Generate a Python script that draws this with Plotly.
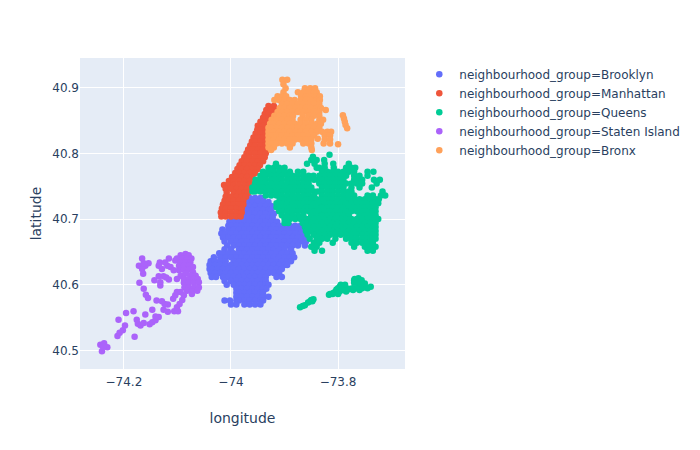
import plotly.graph_objects as go

group_names = ["Brooklyn", "Manhattan", "Queens", "Staten Island", "Bronx"]
group_colors = ["#636efa", "#EF553B", "#00cc96", "#ab63fa", "#FFA15A"]

brooklyn_lat = [40.732,40.726,40.720,40.714,40.708,40.702,40.696,40.690,40.684,40.678,40.672,40.666,40.660,40.654,40.648,40.642,40.636,40.630,40.624,40.618,40.612,40.606,40.600,40.594,40.588,40.582,40.576,40.570]
brooklyn_lon = [
[-73.965,-73.955,-73.945,-73.94],
[-73.97,-73.96,-73.95,-73.94,-73.93],
[-73.975,-73.965,-73.955,-73.945,-73.935,-73.925],
[-73.98,-73.97,-73.96,-73.95,-73.94,-73.93,-73.925],
[-73.99,-73.985,-73.975,-73.965,-73.955,-73.945,-73.935,-73.925,-73.92],
[-73.997,-73.99,-73.98,-73.97,-73.96,-73.95,-73.94,-73.93,-73.922],
[-74.003,-73.995,-73.985,-73.975,-73.965,-73.955,-73.945,-73.935,-73.925,-73.914],
[-74.005,-74.0,-73.99,-73.98,-73.97,-73.96,-73.95,-73.94,-73.93,-73.92,-73.91,-73.90,-73.89,-73.88,-73.87],
[-74.016,-74.005,-73.995,-73.985,-73.975,-73.965,-73.955,-73.945,-73.935,-73.925,-73.915,-73.905,-73.895,-73.885,-73.875,-73.865],
[-74.018,-74.01,-74.0,-73.99,-73.98,-73.97,-73.96,-73.95,-73.94,-73.93,-73.92,-73.91,-73.90,-73.89,-73.88,-73.87,-73.86],
[-74.015,-74.005,-73.995,-73.985,-73.975,-73.965,-73.955,-73.945,-73.935,-73.925,-73.915,-73.905,-73.895,-73.885,-73.875,-73.865,-73.858],
[-74.012,-74.0,-73.99,-73.98,-73.97,-73.96,-73.95,-73.94,-73.93,-73.92,-73.91,-73.90,-73.89,-73.88,-73.87,-73.86],
[-74.007,-73.995,-73.985,-73.975,-73.965,-73.955,-73.945,-73.935,-73.925,-73.915,-73.905,-73.895,-73.885,-73.875,-73.862],
[-74.012,-74.0,-73.985,-73.98,-73.97,-73.96,-73.95,-73.94,-73.93,-73.92,-73.91,-73.90,-73.888],
[-74.022,-74.015,-74.005,-73.995,-73.985,-73.975,-73.965,-73.955,-73.945,-73.935,-73.925,-73.915,-73.905,-73.895,-73.885],
[-74.032,-74.02,-74.01,-74.0,-73.99,-73.98,-73.97,-73.96,-73.95,-73.94,-73.93,-73.92,-73.91,-73.90,-73.89,-73.882],
[-74.038,-74.03,-74.02,-74.01,-73.995,-73.985,-73.975,-73.965,-73.955,-73.945,-73.935,-73.925,-73.915,-73.905,-73.895,-73.888],
[-74.04,-74.03,-74.02,-74.01,-74.0,-73.99,-73.98,-73.97,-73.96,-73.95,-73.94,-73.93,-73.92,-73.91,-73.90,-73.895],
[-74.04,-74.035,-74.025,-74.015,-74.005,-73.995,-73.985,-73.975,-73.965,-73.955,-73.945,-73.935,-73.925,-73.915,-73.905],
[-74.038,-74.03,-74.02,-74.01,-74.0,-73.99,-73.98,-73.97,-73.96,-73.95,-73.94,-73.93,-73.92,-73.91],
[-74.036,-74.028,-74.015,-74.005,-73.995,-73.985,-73.975,-73.965,-73.955,-73.945,-73.935,-73.915,-73.905],
[-74.012,-74.0,-73.99,-73.98,-73.97,-73.96,-73.95,-73.94,-73.935],
[-74.008,-73.995,-73.985,-73.975,-73.965,-73.955,-73.945,-73.935,-73.93],
[-73.99,-73.98,-73.97,-73.96,-73.95,-73.94,-73.934],
[-73.99,-73.985,-73.975,-73.965,-73.955,-73.945,-73.94],
[-73.99,-73.98,-73.97,-73.96,-73.95,-73.94,-73.93],
[-74.012,-74.002,-73.99,-73.985,-73.975,-73.965,-73.955,-73.945,-73.94],
[-74.0,-73.99,-73.975,-73.965,-73.955,-73.945],
]

manhattan_lat = [40.872,40.866,40.860,40.854,40.848,40.842,40.836,40.830,40.824,40.818,40.812,40.806,40.800,40.794,40.788,40.782,40.776,40.770,40.764,40.758,40.752,40.746,40.740,40.734,40.728,40.722,40.716,40.710,40.704]
manhattan_lon = [
[-73.93,-73.92],
[-73.934,-73.925,-73.915],
[-73.937,-73.93,-73.92],
[-73.94,-73.93,-73.925],
[-73.945,-73.935,-73.925],
[-73.95,-73.94,-73.93],
[-73.951,-73.945,-73.935],
[-73.954,-73.945,-73.935],
[-73.958,-73.95,-73.94,-73.93],
[-73.961,-73.955,-73.945,-73.935],
[-73.964,-73.955,-73.945,-73.935],
[-73.968,-73.96,-73.95,-73.94,-73.932],
[-73.971,-73.965,-73.955,-73.945,-73.935],
[-73.975,-73.965,-73.955,-73.945,-73.937],
[-73.98,-73.97,-73.96,-73.95,-73.94],
[-73.984,-73.975,-73.965,-73.955,-73.946],
[-73.988,-73.98,-73.97,-73.96,-73.95],
[-73.992,-73.985,-73.975,-73.965,-73.955],
[-73.998,-73.99,-73.98,-73.97,-73.96],
[-74.004,-73.995,-73.985,-73.975,-73.965],
[-74.013,-74.005,-73.995,-73.985,-73.975,-73.966],
[-74.01,-74.0,-73.99,-73.98,-73.97],
[-74.008,-73.995,-73.985,-73.975,-73.968],
[-74.01,-74.0,-73.99,-73.98,-73.972],
[-74.012,-74.005,-73.995,-73.985,-73.977],
[-74.015,-74.005,-73.995,-73.985,-73.977],
[-74.017,-74.01,-74.0,-73.99,-73.98],
[-74.019,-74.01,-74.0,-73.99,-73.98],
[-74.018,-74.01,-74.0,-73.99,-73.982],
]

queens_lat = [40.798,40.795,40.790,40.784,40.778,40.772,40.766,40.760,40.754,40.748,40.742,40.736,40.730,40.724,40.718,40.712,40.706,40.700,40.694,40.688,40.682,40.676,40.670,40.664,40.658,40.652,
 40.566,40.568,40.569,40.573,40.577,40.578,40.585,40.5875,40.593,40.597,40.592,40.590,40.594,40.595,40.609,40.610,40.607,40.602,40.603,40.600,40.586,40.575]
queens_lon = [
[-73.816],
[-73.847],
[-73.85,-73.84,-73.826],
[-73.916,-73.858,-73.844,-73.825,-73.809,-73.78],
[-73.93,-73.92,-73.91,-73.90,-73.84,-73.835,-73.825,-73.808,-73.785,-73.775,-73.768],
[-73.94,-73.93,-73.92,-73.91,-73.90,-73.89,-73.875,-73.865,-73.83,-73.82,-73.81,-73.80,-73.79,-73.78,-73.77,-73.745,-73.734],
[-73.945,-73.935,-73.925,-73.915,-73.905,-73.895,-73.885,-73.875,-73.865,-73.855,-73.846,-73.835,-73.825,-73.815,-73.805,-73.795,-73.785,-73.77,-73.76,-73.745],
[-73.954,-73.945,-73.935,-73.925,-73.915,-73.905,-73.895,-73.885,-73.875,-73.865,-73.856,-73.845,-73.838,-73.83,-73.82,-73.81,-73.80,-73.79,-73.77,-73.76,-73.755,-73.733,-73.722],
[-73.955,-73.945,-73.935,-73.925,-73.915,-73.905,-73.895,-73.885,-73.875,-73.865,-73.855,-73.835,-73.825,-73.815,-73.805,-73.795,-73.785,-73.775,-73.765,-73.755,-73.728],
[-73.96,-73.95,-73.94,-73.93,-73.92,-73.91,-73.90,-73.89,-73.88,-73.87,-73.86,-73.85,-73.83,-73.82,-73.81,-73.80,-73.79,-73.775,-73.76,-73.737],
[-73.96,-73.955,-73.945,-73.935,-73.925,-73.915,-73.905,-73.895,-73.885,-73.875,-73.865,-73.855,-73.845,-73.838,-73.83,-73.82,-73.81,-73.80,-73.79,-73.78,-73.775,-73.717],
[-73.935,-73.925,-73.915,-73.905,-73.895,-73.885,-73.875,-73.865,-73.855,-73.845,-73.83,-73.82,-73.81,-73.80,-73.79,-73.78,-73.77,-73.745,-73.735,-73.72,-73.712],
[-73.909,-73.90,-73.89,-73.88,-73.87,-73.86,-73.85,-73.84,-73.83,-73.82,-73.81,-73.80,-73.79,-73.78,-73.77,-73.76,-73.75,-73.74,-73.73,-73.724],
[-73.915,-73.905,-73.895,-73.885,-73.875,-73.865,-73.855,-73.845,-73.835,-73.825,-73.815,-73.805,-73.795,-73.785,-73.775,-73.765,-73.755,-73.745,-73.735,-73.725],
[-73.915,-73.91,-73.90,-73.89,-73.88,-73.87,-73.86,-73.85,-73.84,-73.83,-73.82,-73.81,-73.80,-73.79,-73.78,-73.77,-73.76,-73.75,-73.74,-73.73],
[-73.91,-73.905,-73.895,-73.885,-73.875,-73.865,-73.855,-73.845,-73.835,-73.825,-73.815,-73.805,-73.795,-73.785,-73.775,-73.765,-73.755,-73.745,-73.735,-73.73],
[-73.905,-73.895,-73.885,-73.875,-73.865,-73.85,-73.84,-73.83,-73.82,-73.81,-73.80,-73.79,-73.78,-73.76,-73.75,-73.74,-73.73],
[-73.90,-73.89,-73.88,-73.87,-73.86,-73.855,-73.845,-73.835,-73.825,-73.815,-73.805,-73.795,-73.785,-73.775,-73.765,-73.755,-73.745,-73.735,-73.725],
[-73.90,-73.893,-73.866,-73.86,-73.85,-73.84,-73.83,-73.82,-73.81,-73.80,-73.79,-73.78,-73.77,-73.76,-73.75,-73.74,-73.73],
[-73.862,-73.855,-73.845,-73.835,-73.825,-73.815,-73.805,-73.795,-73.785,-73.775,-73.765,-73.755,-73.745,-73.735,-73.73],
[-73.86,-73.85,-73.84,-73.83,-73.82,-73.81,-73.80,-73.79,-73.78,-73.77,-73.76,-73.75,-73.74,-73.73],
[-73.857,-73.845,-73.835,-73.825,-73.815,-73.805,-73.795,-73.785,-73.775,-73.765,-73.755,-73.745,-73.735,-73.73],
[-73.853,-73.84,-73.83,-73.82,-73.805,-73.785,-73.775,-73.765,-73.755,-73.745,-73.735,-73.73],
[-73.845,-73.835,-73.81,-73.775,-73.765,-73.755,-73.745,-73.735],
[-73.85,-73.84,-73.77,-73.75,-73.74,-73.73],
[-73.844,-73.83,-73.745,-73.735],
[-73.871],[-73.866],[-73.862],[-73.856],[-73.85],[-73.846],
[-73.817],[-73.809],[-73.803,-73.781],
[-73.797,-73.789,-73.759,-73.75,-73.739],
[-73.789,-73.772,-73.76],[-73.805,-73.797,-73.785],[-73.781,-73.792],[-73.773,-73.766,-73.755,-73.745,-73.80],
[-73.769],[-73.762],[-73.756,-73.77],[-73.75,-73.758],[-73.764,-73.77],
[-73.795,-73.787],[-73.815,-73.81,-73.80],[-73.852,-73.848],
]

staten_lon = [-74.244,-74.237,-74.231,-74.241,-74.239,-74.212,-74.208,-74.202,-74.198,-74.21,-74.196,-74.182,-74.18,-74.176,-74.174,-74.169,-74.163,-74.16,-74.152,-74.147,-74.147,-74.141,-74.135,-74.141,-74.126,-74.118,-74.106,-74.099,-74.101,-74.096,-74.091,-74.108,-74.104,-74.118,-74.124,-74.129,-74.139,-74.155,-74.159,-74.163,-74.171,-74.172,-74.166,-74.154,-74.16,-74.166,-74.164,-74.163,-74.143,-74.135,-74.132,-74.132,-74.126,-74.116,-74.121,-74.133,-74.135,-74.129,-74.119,-74.116,-74.123,-74.113,-74.104,-74.107,-74.085,-74.094,-74.079,-74.101,-74.091,-74.082,-74.074,-74.094,-74.085,-74.076,-74.097,-74.088,-74.079,-74.071,-74.097,-74.088,-74.079,-74.071,-74.094,-74.085,-74.076,-74.066,-74.101,-74.088,-74.079,-74.069,-74.062,-74.088,-74.079,-74.069,-74.06,-74.087,-74.079,-74.069,-74.06,-74.082,-74.073,-74.063,-74.073,-74.101,-74.094,-74.088]
staten_lat = [40.509,40.511,40.505,40.499,40.506,40.522,40.527,40.531,40.538,40.547,40.557,40.56,40.521,40.547,40.541,40.538,40.542,40.555,40.54,40.562,40.543,40.546,40.551,40.552,40.562,40.559,40.56,40.56,40.566,40.571,40.577,40.579,40.584,40.57,40.571,40.575,40.576,40.58,40.585,40.594,40.603,40.629,40.64,40.633,40.629,40.624,40.617,40.633,40.607,40.613,40.604,40.599,40.613,40.608,40.611,40.634,40.629,40.624,40.629,40.64,40.634,40.627,40.637,40.622,40.647,40.645,40.645,40.64,40.64,40.64,40.64,40.634,40.634,40.634,40.629,40.629,40.629,40.627,40.622,40.623,40.623,40.619,40.614,40.617,40.614,40.614,40.609,40.609,40.608,40.609,40.609,40.603,40.603,40.603,40.604,40.596,40.596,40.596,40.596,40.591,40.59,40.591,40.586,40.589,40.589,40.584]

bronx_lat = [40.912,40.905,40.899,40.893,40.887,40.881,40.875,40.869,40.863,40.857,40.851,40.845,40.839,40.833,40.827,40.821,40.815,40.809,40.805,40.858,40.853,40.848,40.843,40.838,40.866,40.814,40.822]
bronx_lon = [
[-73.904,-73.895],
[-73.902],
[-73.898,-73.862,-73.852,-73.843],
[-73.902,-73.875,-73.865,-73.855,-73.845,-73.84],
[-73.913,-73.905,-73.897,-73.869,-73.86,-73.85,-73.84,-73.834],
[-73.919,-73.91,-73.90,-73.89,-73.881,-73.87,-73.86,-73.85,-73.84,-73.834],
[-73.905,-73.895,-73.885,-73.875,-73.865,-73.855,-73.845,-73.835],
[-73.909,-73.90,-73.89,-73.88,-73.87,-73.86,-73.85,-73.84,-73.832],
[-73.913,-73.905,-73.895,-73.885,-73.875,-73.865,-73.855,-73.845,-73.835],
[-73.919,-73.91,-73.90,-73.89,-73.884,-73.866,-73.855,-73.845,-73.835],
[-73.924,-73.915,-73.905,-73.895,-73.885,-73.87,-73.86,-73.85,-73.835,-73.828],
[-73.927,-73.92,-73.91,-73.90,-73.89,-73.88,-73.87,-73.86,-73.85,-73.84,-73.832],
[-73.93,-73.915,-73.925,-73.905,-73.895,-73.885,-73.875,-73.865,-73.855,-73.845,-73.835],
[-73.93,-73.92,-73.91,-73.90,-73.89,-73.88,-73.87,-73.86,-73.85,-73.84,-73.83,-73.82,-73.813],
[-73.93,-73.925,-73.915,-73.905,-73.895,-73.885,-73.875,-73.865,-73.855,-73.845,-73.825,-73.815],
[-73.93,-73.92,-73.91,-73.90,-73.89,-73.88,-73.87,-73.86,-73.85,-73.825,-73.815],
[-73.93,-73.925,-73.915,-73.905,-73.895,-73.885,-73.865,-73.855,-73.85,-73.827,-73.815],
[-73.93,-73.92,-73.89,-73.85],
[-73.925,-73.849],
[-73.791],[-73.789],[-73.7875],[-73.786],[-73.783],[-73.823],[-73.80],[-73.838],
]


def flatten_rows(lats, lon_rows):
    xs, ys = [], []
    for lat, lons in zip(lats, lon_rows):
        for lon in lons:
            xs.append(lon)
            ys.append(lat)
    return xs, ys


series = [
    flatten_rows(brooklyn_lat, brooklyn_lon),
    flatten_rows(manhattan_lat, manhattan_lon),
    flatten_rows(queens_lat, queens_lon),
    (staten_lon, staten_lat),
    flatten_rows(bronx_lat, bronx_lon),
]

fig = go.Figure()
for name, color, (xs, ys) in zip(group_names, group_colors, series):
    fig.add_trace(go.Scatter(
        x=xs, y=ys, mode="markers",
        name="neighbourhood_group=" + name,
        marker=dict(color=color, size=6.5),
    ))

fig.update_layout(
    template="plotly",
    width=700, height=450,
    font=dict(family="DejaVu Sans, Verdana, sans-serif"),
    margin=dict(l=72, r=303, t=50, b=89),
    legend=dict(x=1.044, y=0.994),
    xaxis=dict(title=dict(text="longitude", standoff=24), range=[-74.282, -73.675], dtick=0.2, tick0=-74.2,
               automargin=False, ticks="outside", ticklen=2, tickcolor="rgba(0,0,0,0)"),
    yaxis=dict(title=dict(text="latitude", standoff=7), range=[40.472, 40.945], dtick=0.1, tick0=40.5,
               automargin=False),
)
fig.write_html("out.html")
